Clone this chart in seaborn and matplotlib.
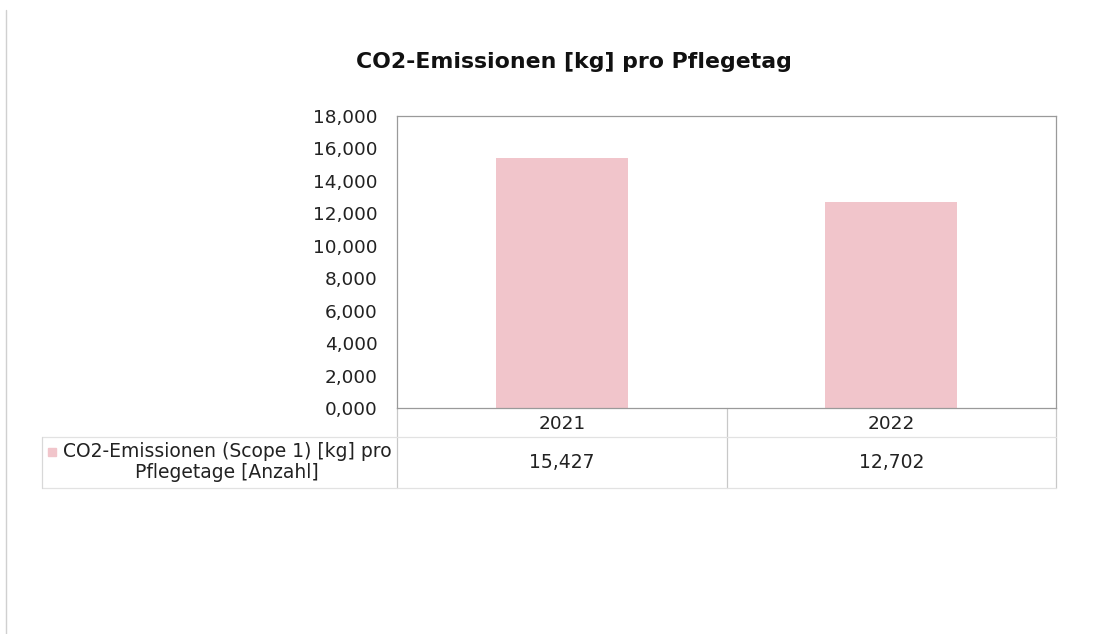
import matplotlib
matplotlib.use("Agg")
import matplotlib.pyplot as plt
from matplotlib.lines import Line2D
import seaborn as sns
import pandas as pd

# Daten aus dem Diagramm
jahre = ["2021", "2022"]
werte = [15.427, 12.702]
serie = "CO2-Emissionen (Scope 1) [kg] pro\nPflegetage [Anzahl]"
titel = "CO2-Emissionen [kg] pro Pflegetag"
y_ticks = [0, 2, 4, 6, 8, 10, 12, 14, 16, 18]

farbe = "#F1C5CB"
linie = "#C8C8C8"

def de_fmt(v):
    return f"{v:.3f}".replace(".", ",")

sns.set_style("white")
plt.rcParams["font.family"] = ["DejaVu Sans"]

df = pd.DataFrame({"Jahr": jahre, "Wert": werte})

fig = plt.figure(figsize=(11.18, 6.34), dpi=100)
ax = fig.add_axes([397 / 1118, 1 - 408 / 634, 659 / 1118, 292 / 634])

sns.barplot(data=df, x="Jahr", y="Wert", color=farbe, width=0.4, ax=ax,
            saturation=1, edgecolor="none")

ax.set_ylim(0, 18)
ax.set_xlim(-0.5, 1.5)
ax.set_yticks(y_ticks)
ax.set_yticklabels([de_fmt(t) for t in y_ticks], fontsize=13.3, color="#222222")
ax.tick_params(axis="y", length=0, pad=14)
ax.tick_params(axis="x", length=0, pad=5, labelsize=13.3, labelcolor="#222222")
ax.set_xlabel("")
ax.set_ylabel("")
for s in ax.spines.values():
    s.set_color("#9a9a9a")
    s.set_linewidth(0.9)

fig.text(574 / 1118, 1 - 62 / 634, titel, ha="center", va="center",
         fontsize=15.8, fontweight="bold", color="#111111")

# Datentabelle unter dem Diagramm
tr = ax.get_xaxis_transform()
y_unten = (408 - 488) / 292
for xb in [-0.5, 0.5, 1.5]:
    ax.add_line(Line2D([xb, xb], [0, y_unten], transform=tr, color=linie,
                       lw=0.9, clip_on=False))
fig.add_artist(Line2D([42 / 1118, 1056 / 1118], [1 - 437 / 634] * 2,
                      color="#E2E2E2", lw=0.9))
fig.add_artist(Line2D([42 / 1118, 1056 / 1118], [1 - 488 / 634] * 2,
                      color="#E2E2E2", lw=0.9))
fig.add_artist(Line2D([42 / 1118] * 2, [1 - 437 / 634, 1 - 488 / 634],
                      color="#D8D8D8", lw=0.9))

for i, v in enumerate(werte):
    ax.text(i, (408 - 462) / 292, de_fmt(v), transform=tr, ha="center",
            va="center", fontsize=13.5, color="#222222")

fig.patches.append(plt.Rectangle((48 / 1118, 1 - 456 / 634), 8 / 1118, 8 / 634,
                                 transform=fig.transFigure, color=farbe))
fig.text(227 / 1118, 1 - 462 / 634, serie, ha="center", va="center",
         fontsize=13.5, color="#222222", linespacing=1.15)

# Seitenrand links
fig.add_artist(Line2D([6 / 1118] * 2, [0, 1 - 10 / 634], color="#D0D0D0", lw=1))

fig.savefig("out.png", dpi=100)
